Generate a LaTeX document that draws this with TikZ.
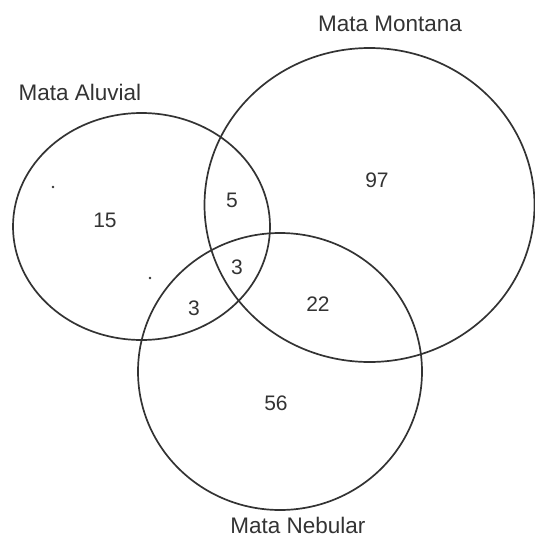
\documentclass[tikz,border=0pt]{standalone}
\usepackage{fontspec}
\setmainfont{Liberation Sans}
\begin{document}
\begin{tikzpicture}[x=1pt,y=-1pt,
  setline/.style={draw=black!80,line width=1.7pt},
  lab/.style={font=\fontsize{22.5}{26}\selectfont,text=black!80,inner sep=0pt},
  num/.style={font=\fontsize{21}{24}\selectfont,text=black!80,inner sep=0pt},
  pt/.style={fill=black!80,circle,inner sep=0pt,minimum size=2.8pt}]
\useasboundingbox (0,0) rectangle (535,539);
\draw[setline] (141.5,226.5) ellipse [x radius=128.5, y radius=113.5];
\draw[setline] (369.5,205) ellipse [x radius=165, y radius=157];
\draw[setline] (280,371.5) ellipse [x radius=142, y radius=138.5];
\node[lab] (la) at (80,92) {Mata Aluvial};
\node[lab] (lm) at (390,24) {Mata Montana};
\node[lab,anchor=base] (ln) at (298,533) {Mata Nebular};
\node[num] (n15) at (105,220) {15};
\node[num] (n5) at (232,200) {5};
\node[num] (n97) at (377,180) {97};
\node[num] (n3a) at (237,267) {3};
\node[num] (n3b) at (194,308) {3};
\node[num] (n22) at (318,304) {22};
\node[num] (n56) at (276,403) {56};
\node[pt] (d1) at (53,187) {};
\node[pt] (d2) at (150,278) {};
\end{tikzpicture}
\end{document}
